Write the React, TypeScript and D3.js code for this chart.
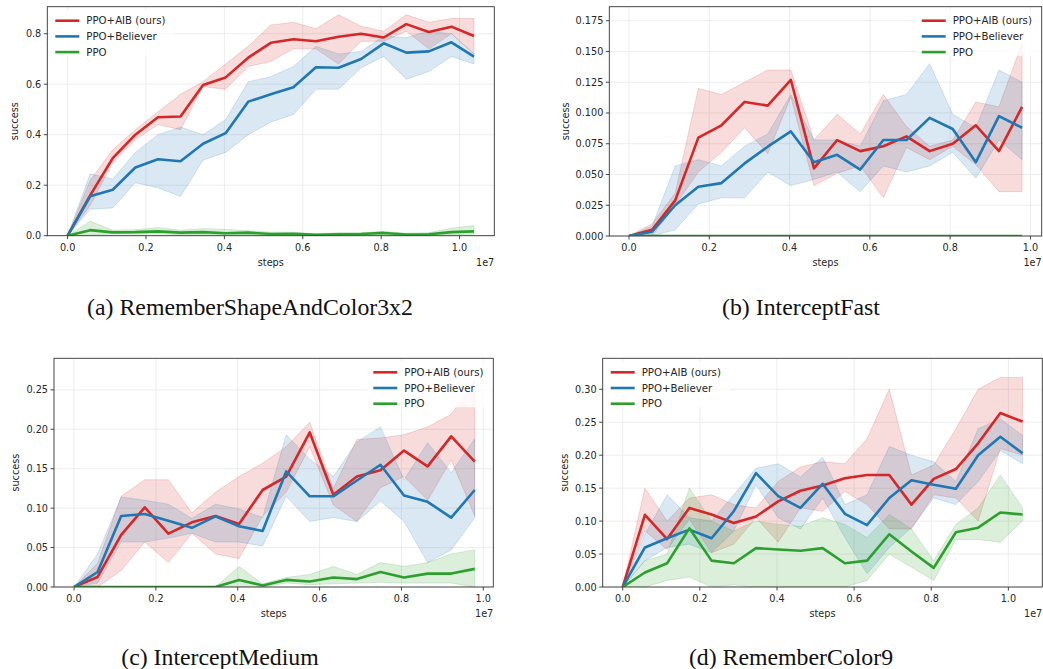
import React from "react";
import * as d3 from "d3";

// x positions, in units of 1e7 environment steps
const steps = [0, 0.0576, 0.1152, 0.1728, 0.2304, 0.288, 0.3456, 0.4032, 0.4608, 0.5184,
  0.576, 0.6336, 0.6912, 0.7488, 0.8064, 0.864, 0.9216, 0.9792, 1.0368];

const seriesNames = ["PPO+AIB (ours)", "PPO+Believer", "PPO"];
const seriesColors = ["#d62728", "#1f77b4", "#2ca02c"];

// (a) RememberShapeAndColor3x2
const aAib = [0, 0.16, 0.307, 0.40, 0.469, 0.472, 0.597, 0.627, 0.705, 0.764, 0.778, 0.770, 0.788, 0.80, 0.785, 0.838, 0.807, 0.828, 0.791];
const aAibLo = [0, 0.12, 0.29, 0.38, 0.44, 0.42, 0.59, 0.58, 0.67, 0.69, 0.74, 0.74, 0.68, 0.77, 0.77, 0.81, 0.74, 0.80, 0.72];
const aAibHi = [0, 0.22, 0.34, 0.42, 0.49, 0.56, 0.61, 0.68, 0.75, 0.835, 0.845, 0.82, 0.875, 0.83, 0.81, 0.875, 0.845, 0.86, 0.86];
const aBel = [0, 0.156, 0.182, 0.27, 0.303, 0.295, 0.364, 0.406, 0.531, 0.56, 0.588, 0.667, 0.665, 0.70, 0.762, 0.725, 0.73, 0.766, 0.709];
const aBelLo = [0, 0.105, 0.11, 0.21, 0.19, 0.155, 0.30, 0.33, 0.40, 0.45, 0.48, 0.58, 0.58, 0.665, 0.71, 0.62, 0.65, 0.71, 0.68];
const aBelHi = [0, 0.245, 0.225, 0.33, 0.40, 0.43, 0.40, 0.46, 0.61, 0.63, 0.67, 0.75, 0.72, 0.73, 0.79, 0.785, 0.81, 0.80, 0.72];
const aPpo = [0, 0.022, 0.013, 0.014, 0.017, 0.012, 0.014, 0.010, 0.012, 0.007, 0.008, 0.004, 0.006, 0.007, 0.011, 0.005, 0.006, 0.014, 0.017];
const aPpoLo = [0, 0.002, 0.008, 0.006, 0.008, 0.004, 0.005, 0.003, 0.004, 0.002, 0.002, 0, 0.001, 0.002, 0.004, 0.001, 0.002, 0.004, 0.006];
const aPpoHi = [0, 0.057, 0.022, 0.024, 0.032, 0.022, 0.028, 0.025, 0.02, 0.014, 0.014, 0.008, 0.012, 0.012, 0.017, 0.01, 0.012, 0.03, 0.04];

// (b) InterceptFast
const bAib = [0, 0.005, 0.029, 0.080, 0.090, 0.109, 0.106, 0.127, 0.055, 0.078, 0.069, 0.073, 0.081, 0.069, 0.075, 0.090, 0.069, 0.105];
const bAibLo = [0, 0, 0.025, 0.052, 0.068, 0.088, 0.067, 0.113, 0.041, 0.051, 0.057, 0.031, 0.072, 0.062, 0.073, 0.058, 0.036, 0.036];
const bAibHi = [0, 0.010, 0.035, 0.120, 0.115, 0.125, 0.135, 0.135, 0.078, 0.099, 0.083, 0.115, 0.089, 0.073, 0.078, 0.109, 0.105, 0.157];
const bBel = [0, 0.0035, 0.025, 0.040, 0.043, 0.059, 0.0726, 0.085, 0.060, 0.066, 0.054, 0.078, 0.078, 0.096, 0.087, 0.060, 0.0975, 0.088];
const bBelLo = [0, 0, 0.005, 0.026, 0.031, 0.031, 0.052, 0.041, 0.046, 0.052, 0.036, 0.057, 0.052, 0.057, 0.068, 0.047, 0.078, 0.062];
const bBelHi = [0, 0.008, 0.057, 0.062, 0.057, 0.073, 0.083, 0.115, 0.078, 0.078, 0.073, 0.110, 0.115, 0.140, 0.099, 0.088, 0.135, 0.125];
const bPpo = [0, 0, 0, 0, 0, 0, 0, 0, 0, 0, 0, 0, 0, 0, 0, 0, 0, 0];

// (c) InterceptMedium
const cAib = [0, 0.0127, 0.066, 0.101, 0.0676, 0.082, 0.090, 0.080, 0.123, 0.140, 0.196, 0.117, 0.140, 0.148, 0.173, 0.153, 0.191, 0.159];
const cAibLo = [0, 0, 0.021, 0.057, 0.031, 0.068, 0.042, 0.036, 0.09, 0.12, 0.178, 0.104, 0.083, 0.126, 0.14, 0.11, 0.161, 0.09];
const cAibHi = [0, 0.03, 0.115, 0.136, 0.136, 0.094, 0.12, 0.14, 0.157, 0.178, 0.209, 0.125, 0.187, 0.189, 0.193, 0.203, 0.219, 0.262];
const cBel = [0, 0.019, 0.090, 0.0925, 0.084, 0.075, 0.0895, 0.077, 0.071, 0.1465, 0.115, 0.115, 0.135, 0.155, 0.116, 0.108, 0.088, 0.123];
const cBelLo = [0, 0.005, 0.057, 0.057, 0.062, 0.068, 0.057, 0.057, 0.052, 0.115, 0.083, 0.088, 0.083, 0.109, 0.083, 0.031, 0.047, 0.088];
const cBelHi = [0, 0.042, 0.114, 0.11, 0.105, 0.087, 0.105, 0.099, 0.088, 0.193, 0.162, 0.14, 0.184, 0.203, 0.136, 0.183, 0.145, 0.188];
const cPpo = [0, 0, 0, 0, 0, 0, 0, 0.009, 0.002, 0.009, 0.007, 0.012, 0.010, 0.019, 0.012, 0.017, 0.017, 0.023];
const cPpoLo = [0, 0, 0, 0, 0, 0, 0, 0, 0, 0.005, 0.003, 0.004, 0.005, 0.006, 0.005, 0.005, 0.005, 0];
const cPpoHi = [0, 0, 0, 0, 0, 0, 0, 0.026, 0.004, 0.012, 0.016, 0.026, 0.016, 0.031, 0.026, 0.031, 0.042, 0.047];

// (d) RememberColor9
const dAib = [0, 0.1096, 0.0727, 0.12, 0.11, 0.097, 0.107, 0.13, 0.146, 0.154, 0.165, 0.170, 0.170, 0.125, 0.164, 0.179, 0.218, 0.264, 0.251];
const dAibLo = [0, 0.085, 0.057, 0.103, 0.052, 0.065, 0.105, 0.068, 0.12, 0.115, 0.145, 0.125, 0.088, 0.088, 0.14, 0.135, 0.10, 0.21, 0.20];
const dAibHi = [0, 0.15, 0.10, 0.135, 0.14, 0.125, 0.12, 0.16, 0.182, 0.19, 0.187, 0.225, 0.30, 0.17, 0.185, 0.24, 0.30, 0.318, 0.318];
const dBel = [0, 0.060, 0.074, 0.087, 0.074, 0.115, 0.1727, 0.138, 0.12, 0.1566, 0.111, 0.094, 0.135, 0.162, 0.155, 0.149, 0.20, 0.228, 0.203];
const dBelLo = [0, 0.04, 0.06, 0.065, 0.052, 0.085, 0.155, 0.105, 0.088, 0.135, 0.075, 0.02, 0.06, 0.09, 0.135, 0.125, 0.16, 0.207, 0.187];
const dBelHi = [0, 0.08, 0.14, 0.105, 0.10, 0.14, 0.18, 0.187, 0.167, 0.197, 0.125, 0.14, 0.213, 0.20, 0.19, 0.16, 0.24, 0.255, 0.23];
const dPpo = [0, 0.022, 0.036, 0.089, 0.040, 0.036, 0.059, 0.057, 0.055, 0.059, 0.036, 0.040, 0.080, 0.054, 0.029, 0.083, 0.090, 0.113, 0.110];
const dPpoLo = [0, 0, 0.01, 0.015, 0, 0.003, 0, 0, 0, 0, 0, 0.01, 0.05, 0.03, 0.01, 0.072, 0.072, 0.068, 0.10];
const dPpoHi = [0, 0.04, 0.05, 0.15, 0.10, 0.085, 0.10, 0.095, 0.092, 0.105, 0.095, 0.075, 0.11, 0.088, 0.04, 0.095, 0.12, 0.17, 0.12];

const xTicks = [0, 0.2, 0.4, 0.6, 0.8, 1.0];

type Panel = {
  caption: string;
  captionX: number;
  captionY: number;
  box: { l: number; r: number; t: number; b: number };
  xDomain: [number, number];
  yTop: number;
  yTicks: number[];
  yFmt: string;
  legendLeft: boolean;
  series: { mean: number[]; lo: number[]; hi: number[] }[];
};

const panels: Panel[] = [
  {
    caption: "(a) RememberShapeAndColor3x2", captionX: 250, captionY: 315,
    box: { l: 47.3, r: 494.3, t: 6.7, b: 235.7 }, xDomain: [-0.0518, 1.0886], yTop: 0.907,
    yTicks: [0, 0.2, 0.4, 0.6, 0.8], yFmt: ".1f", legendLeft: true,
    series: [
      { mean: aAib, lo: aAibLo, hi: aAibHi },
      { mean: aBel, lo: aBelLo, hi: aBelHi },
      { mean: aPpo, lo: aPpoLo, hi: aPpoHi },
    ],
  },
  {
    caption: "(b) InterceptFast", captionX: 801, captionY: 315,
    box: { l: 609.3, r: 1041.7, t: 6.7, b: 236 }, xDomain: [-0.049, 1.028], yTop: 0.1864,
    yTicks: [0, 0.025, 0.05, 0.075, 0.1, 0.125, 0.15, 0.175], yFmt: ".3f", legendLeft: false,
    series: [
      { mean: bAib, lo: bAibLo, hi: bAibHi },
      { mean: bBel, lo: bBelLo, hi: bBelHi },
      { mean: bPpo, lo: bPpo, hi: bPpo },
    ],
  },
  {
    caption: "(c) InterceptMedium", captionX: 220, captionY: 665,
    box: { l: 54, r: 493.3, t: 358.3, b: 587 }, xDomain: [-0.049, 1.0245], yTop: 0.29,
    yTicks: [0, 0.05, 0.1, 0.15, 0.2, 0.25], yFmt: ".2f", legendLeft: false,
    series: [
      { mean: cAib, lo: cAibLo, hi: cAibHi },
      { mean: cBel, lo: cBelLo, hi: cBelHi },
      { mean: cPpo, lo: cPpoLo, hi: cPpoHi },
    ],
  },
  {
    caption: "(d) RememberColor9", captionX: 791, captionY: 665,
    box: { l: 602.7, r: 1042.3, t: 358.3, b: 587 }, xDomain: [-0.0519, 1.088], yTop: 0.347,
    yTicks: [0, 0.05, 0.1, 0.15, 0.2, 0.25, 0.3], yFmt: ".2f", legendLeft: true,
    series: [
      { mean: dAib, lo: dAibLo, hi: dAibHi },
      { mean: dBel, lo: dBelLo, hi: dBelHi },
      { mean: dPpo, lo: dPpoLo, hi: dPpoHi },
    ],
  },
];

const TXT = "#262626";
const SANS = "DejaVu Sans, sans-serif";
const FS = 9.7;

function ChartPanel({ p }: { p: Panel }) {
  const { l, r, t, b } = p.box;
  const x = d3.scaleLinear().domain(p.xDomain).range([l, r]);
  const y = d3.scaleLinear().domain([0, p.yTop]).range([b, t]);
  const fmt = d3.format(p.yFmt);
  const clipId = "clip-" + p.caption.replace(/[^a-zA-Z0-9]/g, "");

  const lineGen = (vals: number[]) =>
    d3.line<number>().x((_, i) => x(steps[i])).y((d) => y(d))(vals) || "";
  const areaGen = (lo: number[], hi: number[]) =>
    d3.area<number>().x((_, i) => x(steps[i])).y0((_, i) => y(lo[i])).y1((d) => y(d))(hi) || "";

  const legX = p.legendLeft ? l + 8 : r - 120;
  const legY = t + 14;

  return (
    <g>
      <defs>
        <clipPath id={clipId}>
          <rect x={l} y={t} width={r - l} height={b - t} />
        </clipPath>
      </defs>
      {/* grid */}
      {xTicks.map((v) => (
        <line key={"gx" + v} x1={x(v)} x2={x(v)} y1={t} y2={b} stroke="#ebebeb" strokeWidth={0.9} />
      ))}
      {p.yTicks.map((v) => (
        <line key={"gy" + v} x1={l} x2={r} y1={y(v)} y2={y(v)} stroke="#ebebeb" strokeWidth={0.9} />
      ))}
      <g clipPath={`url(#${clipId})`}>
        {p.series.map((s, k) => (
          <path key={"band" + k} d={areaGen(s.lo, s.hi)} fill={seriesColors[k]} fillOpacity={0.17}
            stroke={seriesColors[k]} strokeOpacity={0.17} strokeWidth={1} />
        ))}
        {p.series.map((s, k) => (
          <path key={"line" + k} d={lineGen(s.mean)} fill="none" stroke={seriesColors[k]}
            strokeWidth={2.6} strokeLinejoin="round" />
        ))}
      </g>
      {/* legend */}
      <rect x={legX - 5} y={legY - 11} width={124} height={46} fill="#fff" fillOpacity={0.8} />
      {seriesNames.map((n, k) => (
        <g key={"leg" + k}>
          <line x1={legX} x2={legX + 24} y1={legY + k * 15.7} y2={legY + k * 15.7}
            stroke={seriesColors[k]} strokeWidth={2.6} />
          <text x={legX + 31} y={legY + k * 15.7 + 3.6} fontSize={10.2} fontFamily={SANS} fill={TXT}>{n}</text>
        </g>
      ))}
      {/* spines */}
      <rect x={l} y={t} width={r - l} height={b - t} fill="none" stroke="#333" strokeWidth={0.9} />
      {/* x ticks */}
      {xTicks.map((v) => (
        <g key={"xt" + v}>
          <line x1={x(v)} x2={x(v)} y1={b} y2={b + 3.5} stroke="#333" strokeWidth={0.9} />
          <text x={x(v)} y={b + 15} textAnchor="middle" fontSize={FS} fontFamily={SANS} fill={TXT}>
            {d3.format(".1f")(v)}
          </text>
        </g>
      ))}
      {p.yTicks.map((v) => (
        <g key={"yt" + v}>
          <line x1={l - 3.5} x2={l} y1={y(v)} y2={y(v)} stroke="#333" strokeWidth={0.9} />
          <text x={l - 6} y={y(v) + 3.5} textAnchor="end" fontSize={FS} fontFamily={SANS} fill={TXT}>
            {fmt(v)}
          </text>
        </g>
      ))}
      <text x={(l + r) / 2} y={b + 30} textAnchor="middle" fontSize={FS} fontFamily={SANS} fill={TXT}>steps</text>
      <text x={r} y={b + 30} textAnchor="end" fontSize={FS} fontFamily={SANS} fill={TXT}>1e7</text>
      <text transform={`translate(${l - (p.yFmt === ".1f" ? 29 : p.yFmt === ".2f" ? 35 : 40)},${(t + b) / 2}) rotate(-90)`}
        textAnchor="middle" fontSize={FS} fontFamily={SANS} fill={TXT}>success</text>
      <text x={p.captionX} y={p.captionY} textAnchor="middle" fontSize={23.8}
        fontFamily="Liberation Serif, Times New Roman, serif" fill="#111">{p.caption}</text>
    </g>
  );
}

export default function App() {
  return (
    <div style={{ position: "absolute", left: 0, top: 0 }}>
      <svg width={1043} height={669} style={{ display: "block", background: "#fff" }}>
        {panels.map((p) => (
          <ChartPanel key={p.caption} p={p} />
        ))}
      </svg>
    </div>
  );
}
